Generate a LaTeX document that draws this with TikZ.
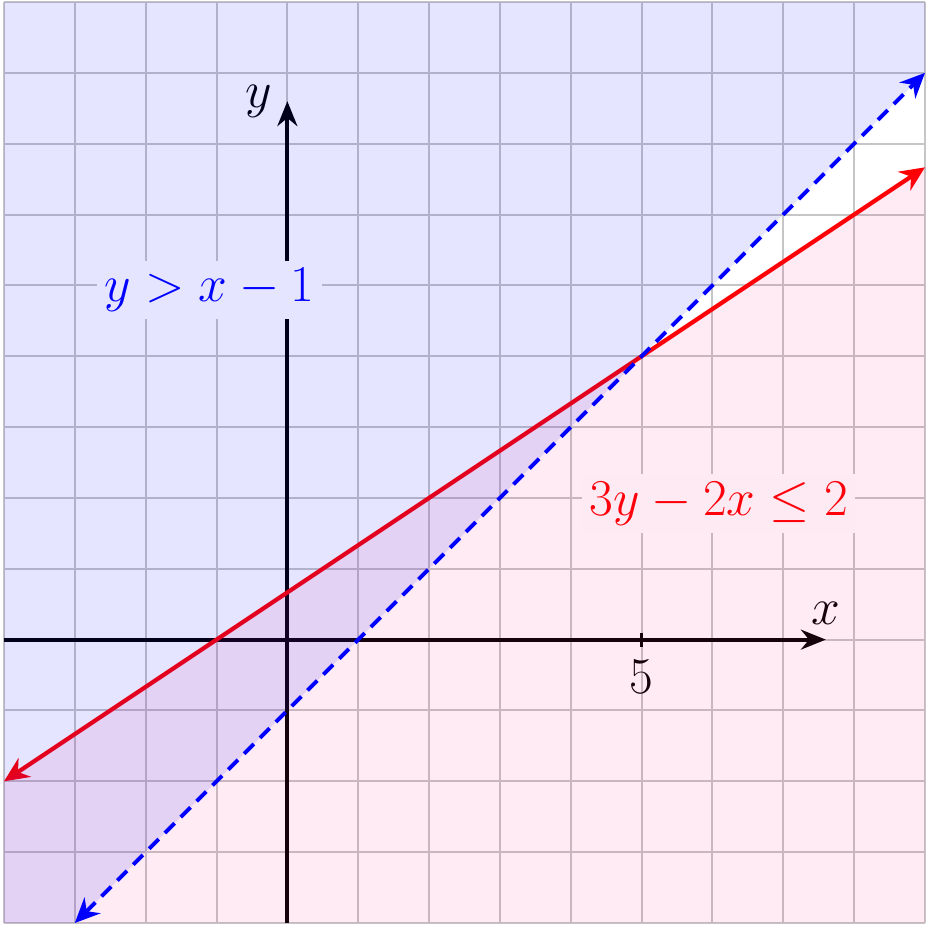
\documentclass[tikz,border=0pt]{standalone}
\usetikzlibrary{arrows.meta}
\definecolor{pinkfill}{RGB}{240,30,130}
\tikzset{
  gridline/.style={draw=gray!45, line width=0.8pt},
  axisline/.style={draw=black, line width=1.5pt, -{Stealth[length=10pt,width=8pt]}},
  redline/.style={draw=red, line width=1.7pt, {Stealth[length=10pt,width=9pt]}-{Stealth[length=10pt,width=9pt]}},
  blueline/.style={draw=blue, line width=1.6pt, dash pattern=on 5.5pt off 3.5pt, {Stealth[length=10pt,width=9pt]}-{Stealth[length=10pt,width=9pt]}},
  eqlabel/.style={fill=white, inner sep=3pt, font=\fontsize{20}{24}\selectfont},
  axlabel/.style={font=\fontsize{20}{24}\selectfont, inner sep=3pt}
}
\begin{document}
\begin{tikzpicture}[x=1cm,y=1cm]
\useasboundingbox (-4.056,-4.127) rectangle (9.113,9.028);
% grid
\draw[gridline] (-4,-4) grid (9,9);
% axes
\coordinate (xs) at (-4,0);
\coordinate (xe) at (7.6,0);
\coordinate (ys) at (0,-4);
\coordinate (ye) at (0,7.6);
\draw[axisline] (xs) -- (xe);
\draw[axisline] (ys) -- (ye);
\node[axlabel, above] (xl) at (7.6,0.1) {$x$};
\node[axlabel, left] (yl) at (-0.1,7.6) {$y$};
\coordinate (t5a) at (5,0.1);
\coordinate (t5b) at (5,-0.1);
\draw[black, line width=1.5pt] (t5a) -- (t5b);
\node[axlabel, below] (l5) at (5,-0.18) {$5$};
% red boundary
\coordinate (ra) at (-4,-2);
\coordinate (rb) at (9,20/3);
\draw[redline] (ra) -- (rb);
% labels
\node[eqlabel, text=blue] (bl) at (-1.1,4.93) {$y>x-1$};
\node[eqlabel, text=red] (rl) at (6.09,1.92) {$3y-2x\le 2$};
% shaded regions
\fill[pinkfill, opacity=0.09] (-4,-2) -- (9,20/3) -- (9,-4) -- (-4,-4) -- cycle;
\fill[blue, opacity=0.1] (-4,-4) -- (-3,-4) -- (9,8) -- (9,9) -- (-4,9) -- cycle;
% blue boundary
\coordinate (ba) at (-3,-4);
\coordinate (bb) at (9,8);
\draw[blueline] (ba) -- (bb);
\end{tikzpicture}
\end{document}
